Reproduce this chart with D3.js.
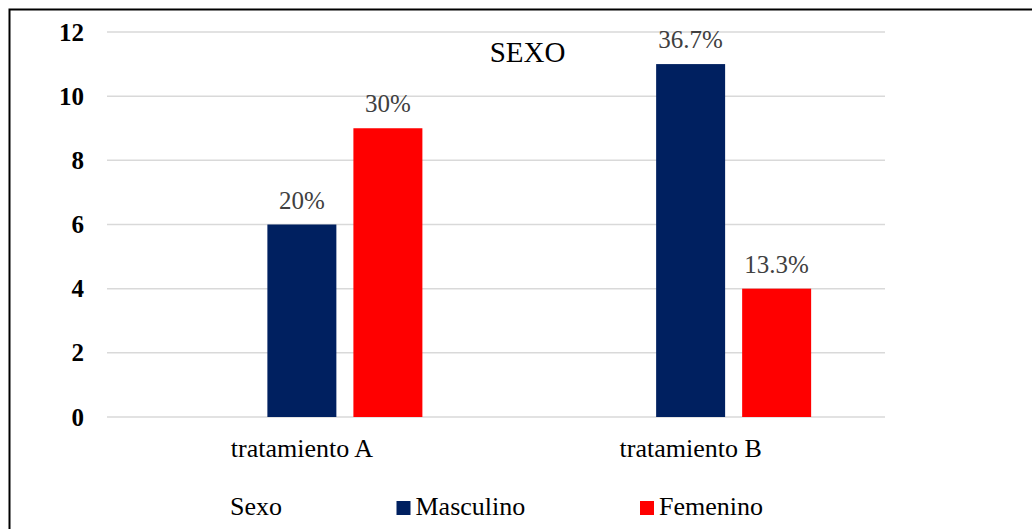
<!DOCTYPE html>
<html>
<head>
<meta charset="utf-8">
<script src="https://cdn.jsdelivr.net/npm/d3@7"></script>
<style>
  body { margin: 0; background: #fff; }
</style>
</head>
<body>
<script>
var width = 1032,
    height = 529;

// data
var categories = ["tratamiento A", "tratamiento B"];
var seriesNames = ["Sexo", "Masculino", "Femenino"];
var sexo = [0, 0];
var masculino = [6, 11];
var femenino = [9, 4];
var masculinoLabels = ["20%", "36.7%"];
var femeninoLabels = ["30%", "13.3%"];
var yTicks = [0, 2, 4, 6, 8, 10, 12];

var colors = { "Sexo": "none", "Masculino": "#002060", "Femenino": "#ff0000" };
var serif = "'Liberation Serif', 'Times New Roman', Times, serif";

var rows = categories.map(function(c, i) {
  return {
    cat: c,
    vals: [
      { s: "Sexo", v: sexo[i], label: "" },
      { s: "Masculino", v: masculino[i], label: masculinoLabels[i] },
      { s: "Femenino", v: femenino[i], label: femeninoLabels[i] }
    ]
  };
});

var svg = d3.select("body").append("svg")
    .attr("width", width)
    .attr("height", height)
    .style("font-family", serif);

svg.append("rect")
    .attr("width", width).attr("height", height)
    .attr("fill", "#fff");

// outer frame (only left/top visible)
svg.append("rect")
    .attr("x", 9.5).attr("y", 9.5)
    .attr("width", 1200).attr("height", 700)
    .attr("fill", "none")
    .attr("stroke", "#000")
    .attr("stroke-width", 2);

var x = d3.scaleBand()
    .domain(categories)
    .range([107.5, 885])
    .paddingInner(0.38)
    .paddingOuter(0.19);

var xs = d3.scaleBand()
    .domain(seriesNames)
    .range([0, x.bandwidth()])
    .paddingInner(0.198)
    .paddingOuter(0);

var y = d3.scaleLinear()
    .domain([0, 12])
    .range([417, 32]);

// gridlines
svg.append("g").attr("class", "grid")
    .selectAll("line").data(yTicks)
  .enter().append("line")
    .attr("x1", 107).attr("x2", 885)
    .attr("y1", d => y(d)).attr("y2", d => y(d))
    .attr("stroke", "#d9d9d9")
    .attr("stroke-width", 1.5);

// y axis labels
svg.append("g").attr("class", "yaxis")
    .selectAll("text").data(yTicks)
  .enter().append("text")
    .attr("x", 84)
    .attr("y", d => y(d) + 8.5)
    .attr("text-anchor", "end")
    .attr("font-family", serif)
    .attr("font-size", 25)
    .attr("font-weight", "bold")
    .attr("fill", "#000")
    .text(d => d);

// bars
var groups = svg.append("g").attr("class", "bars")
    .selectAll("g").data(rows)
  .enter().append("g")
    .attr("transform", d => "translate(" + x(d.cat) + ",0)");

groups.selectAll("rect").data(d => d.vals)
  .enter().append("rect")
    .attr("x", d => xs(d.s))
    .attr("y", d => y(d.v))
    .attr("width", xs.bandwidth())
    .attr("height", d => y(0) - y(d.v))
    .attr("fill", d => colors[d.s]);

groups.selectAll("text").data(d => d.vals.filter(v => v.label))
  .enter().append("text")
    .attr("x", d => xs(d.s) + xs.bandwidth() / 2)
    .attr("y", d => y(d.v) - 16)
    .attr("text-anchor", "middle")
    .attr("font-family", serif)
    .attr("font-size", 25)
    .attr("fill", "#404040")
    .text(d => d.label);

// category labels
svg.append("g").attr("class", "xaxis")
    .selectAll("text").data(categories)
  .enter().append("text")
    .attr("x", d => x(d) + x.bandwidth() / 2)
    .attr("y", 457)
    .attr("text-anchor", "middle")
    .attr("font-family", serif)
    .attr("font-size", 26)
    .attr("fill", "#000")
    .text(d => d);

// title
svg.append("text")
    .attr("x", 527.5)
    .attr("y", 62)
    .attr("text-anchor", "middle")
    .attr("font-family", serif)
    .attr("font-size", 29)
    .attr("fill", "#000")
    .text("SEXO");

// legend
var legendX = { "Sexo": 230, "Masculino": 396.5, "Femenino": 640 };
var legend = svg.append("g").attr("class", "legend")
    .selectAll("g").data(seriesNames)
  .enter().append("g")
    .attr("transform", d => "translate(" + legendX[d] + ",0)");

legend.filter(d => colors[d] !== "none").append("rect")
    .attr("x", 0).attr("y", 501)
    .attr("width", 14).attr("height", 14)
    .attr("fill", d => colors[d]);

legend.append("text")
    .attr("x", d => colors[d] === "none" ? 0 : 19)
    .attr("y", 515)
    .attr("font-family", serif)
    .attr("font-size", 26)
    .attr("fill", "#000")
    .text(d => d);
</script>
</body>
</html>
